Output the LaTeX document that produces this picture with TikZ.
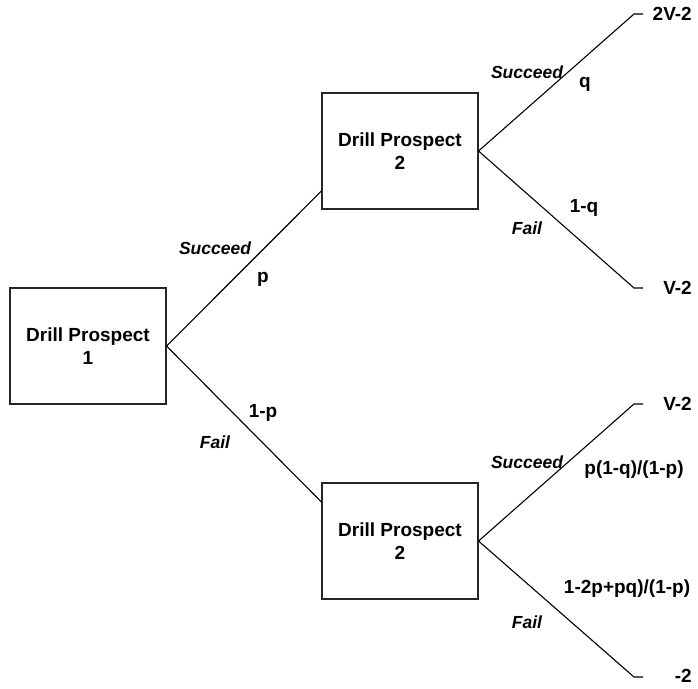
\documentclass[tikz,border=0pt]{standalone}
\usepackage{fontspec}
\setmainfont{Liberation Sans}
\usetikzlibrary{calc}
\tikzset{
  dbox/.style={draw=black!85, line width=1.1pt, minimum width=156pt, minimum height=116pt,
    inner sep=0pt, align=center, font=\bfseries\fontsize{19}{22.5}\selectfont},
  branch/.style={line width=1.1pt, black},
  val/.style={inner sep=0pt, font=\bfseries\fontsize{19}{22}\selectfont},
  outc/.style={val, anchor=east},
  act/.style={inner sep=0pt, font=\bfseries\itshape\fontsize{17.5}{20}\selectfont}
}
\begin{document}
\begin{tikzpicture}[x=1pt,y=-1pt]
\useasboundingbox (0,0) rectangle (698,688);
% boxes
\node[dbox] (b1) at (88,346) {Drill Prospect\\1};
\node[dbox] (b2) at (400,151) {Drill Prospect\\2};
\node[dbox] (b3) at (400,541) {Drill Prospect\\2};
% entry points
\coordinate (b2in) at ($(b2.west)+(0,40)$);
\coordinate (b3in) at ($(b3.west)+(0,-39)$);
\draw[branch] (b1.east) -- (b2in);
\draw[branch] (b1.east) -- (b3in);
% end points
\coordinate (e1) at (634,14);  \coordinate (e1t) at (643,14);
\coordinate (e2) at (634,288); \coordinate (e2t) at (643,288);
\coordinate (e3) at (634,404); \coordinate (e3t) at (643,404);
\coordinate (e4) at (634,677); \coordinate (e4t) at (643,677);
\draw[branch] (b2.east) -- (e1) -- (e1t);
\draw[branch] (b2.east) -- (e2) -- (e2t);
\draw[branch] (b3.east) -- (e3) -- (e3t);
\draw[branch] (b3.east) -- (e4) -- (e4t);
% outcomes
\node[outc] (o1) at (692,14) {2V-2};
\node[outc] (o2) at (692,288) {V-2};
\node[outc] (o3) at (692,404) {V-2};
\node[outc] (o4) at (692,676) {-2};
% first stage labels
\node[act] (s1) at (215,248) {Succeed};
\node[val] (p1) at (263,279) {p};
\node[val] (p2) at (263,413) {1-p};
\node[act] (f1) at (215,442) {Fail};
% upper second stage
\node[act] (s2) at (527,72) {Succeed};
\node[val] (q1) at (585,84) {q};
\node[val] (q2) at (584,208) {1-q};
\node[act] (f2) at (527,228) {Fail};
% lower second stage
\node[act] (s3) at (527,462) {Succeed};
\node[val] (r1) at (634,470) {p(1-q)/(1-p)};
\node[val] (r2) at (627,589) {1-2p+pq)/(1-p)};
\node[act] (f3) at (527,622) {Fail};
\end{tikzpicture}
\end{document}
